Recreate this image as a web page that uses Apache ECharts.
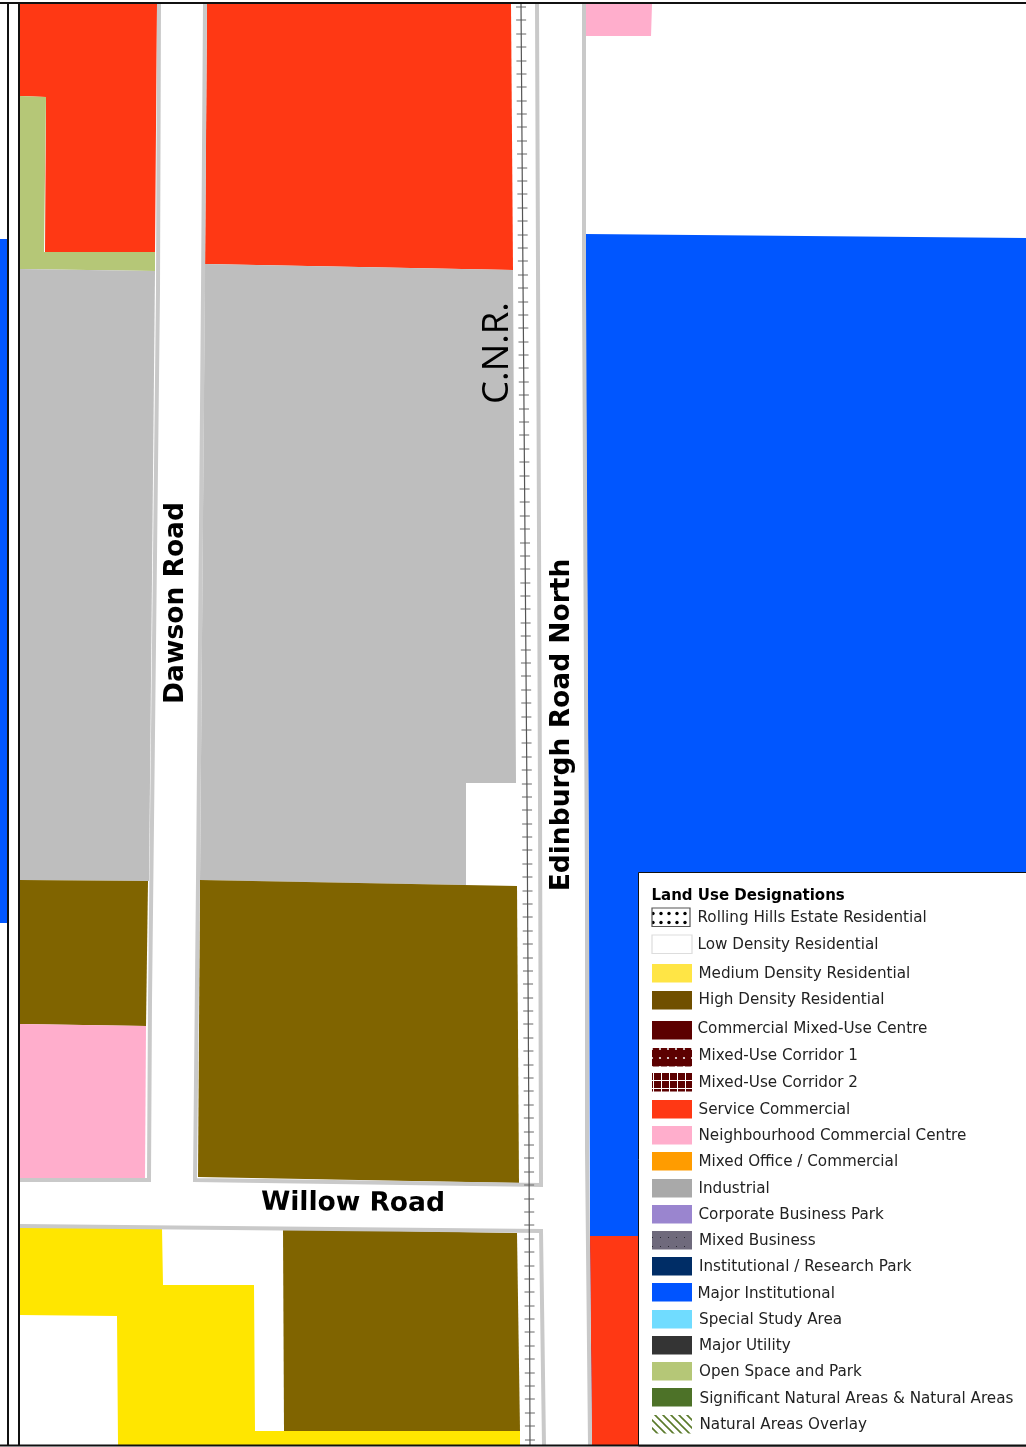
<!DOCTYPE html>
<html><head><meta charset="utf-8">
<style>html,body{margin:0;padding:0;background:#fff}#c{width:1026px;height:1447px}</style>
<script src="https://cdn.jsdelivr.net/npm/echarts@6/dist/echarts.min.js"></script>
</head><body><div id="c"></div>
<script>
// ---- Land-use parcels (map units) ----
const serviceNW = [[20,4],[157,4],[155,252],[45,252],[46,97],[20,96]];
const openSpace = [[20,96],[46,97],[44,252],[155,252],[155,271],[20,269]];
const industrialW = [[20,269],[155,271],[149,881],[20,880]];
const highW = [[20,880],[148,881],[146,1026],[20,1024]];
const neighbourW = [[20,1024],[146,1026],[145,1178],[20,1178]];
const serviceN = [[207,4],[511,4],[513,270],[205,264]];
const industrialE = [[205,264],[513,270],[516,783],[466,783],[466,885],[200,880]];
const highE = [[200,880],[517,886],[519,1183],[198,1177]];
const highS = [[283,1229],[517,1233],[520,1431],[284,1431]];
const mediumS = [[20,1228],[162,1228],[163,1285],[254,1285],[255,1431],[520,1431],[520,1445],[118,1445],[117,1316],[20,1315]];
const neighbourNE = [[585,4],[652,4],[651,36],[585,36]];
const majorE = [[585,234],[1026,238],[1026,1445],[592,1445],[590,1236],[589,900]];
const serviceSE = [[590,1236],[640,1236],[640,1445],[592,1445]];
const majorFar = [[0,239],[8,239],[8,923],[0,923]];
// ---- Road edges, railway ----
const dawsonW = [[159,4],[158,290],[150,1000],[149,1180],[20,1180]];
const dawsonE = [[205,4],[203,290],[198,880],[195,1180],[541,1185],[540,800],[537,4]];
const willowS = [[20,1226],[541,1231],[544,1445]];
const edinburghE = [[584,4],[584,280],[587,900],[587,1150],[590,1445]];
const railway = [[521,4],[523,280],[527,800],[529,1150],[530,1445]];
const railTicks = [7,20,34,47,61,74,87,101,114,127,141,154,168,181,194,208,221,235,248,261,275,288,302,315,328,342,355,368,382,395,409,422,435,449,462,476,489,502,516,529,543,556,569,583,596,609,623,636,650,663,676,690,703,717,730,743,757,770,784,797,810,824,837,850,864,877,891,904,917,931,944,958,971,984,998,1011,1024,1038,1051,1065,1078,1091,1105,1118,1132,1145,1158,1172,1185,1199,1212,1225,1239,1252,1266,1279,1292,1306,1319,1332,1346,1359,1373,1386,1399,1413,1426,1440];
const frames = [[[0,3],[1026,3]],[[8,3],[8,1445]],[[19,3],[19,1445]],[[0,1445.5],[1026,1445.5]]];
// ---- Legend ----
const legendTitle = 'Land Use Designations';
const legendNames = ['Rolling Hills Estate Residential','Low Density Residential','Medium Density Residential','High Density Residential','Commercial Mixed-Use Centre','Mixed-Use Corridor 1','Mixed-Use Corridor 2','Service Commercial','Neighbourhood Commercial Centre','Mixed Office / Commercial','Industrial','Corporate Business Park','Mixed Business','Institutional / Research Park','Major Institutional','Special Study Area','Major Utility','Open Space and Park','Significant Natural Areas & Natural Areas','Natural Areas Overlay'];
const legendTop = [908,935,964,991,1021,1048,1073,1100,1126,1152,1179,1205,1231,1257,1283,1310,1336,1362,1388,1415];
const legendTextY = [918.5,945.5,974.5,1000.5,1029.5,1056.5,1083.5,1110.5,1136.5,1162.5,1189.5,1215.5,1241.5,1267.5,1294.5,1320.5,1346.5,1372.5,1399.5,1425.5];
const legendTextX = [697.5,697.5,698.5,698.5,697.5,698.5,698.5,698.5,698.5,698.5,698.5,698.5,699,699,697.5,699,699,699,699.5,699.5];

const C = {red:'#ff3814',grey:'#bebebe',brown:'#806400',yellow:'#ffe600',pink:'#ffaecc',blue:'#0056ff',green:'#b5c777',road:'#c9c9c9'};
const parcels = [
 [serviceNW,C.red],[openSpace,C.green],[industrialW,C.grey],[highW,C.brown],[neighbourW,C.pink],
 [serviceN,C.red],[industrialE,C.grey],[highE,C.brown],[highS,C.brown],[mediumS,C.yellow],
 [neighbourNE,C.pink],[majorE,C.blue],[serviceSE,C.red],[majorFar,C.blue]
];

function pat(w,h,bg,draw){const c=document.createElement('canvas');c.width=w;c.height=h;const g=c.getContext('2d');g.fillStyle=bg;g.fillRect(0,0,w,h);draw(g);return {image:c,repeat:'repeat'};}
const fills = [
 pat(8,9,'#fff',g=>{g.fillStyle='#000';g.beginPath();g.arc(5,4.5,1.7,0,7);g.fill();}),
 '#fff','#ffe545','#704f00','#5c0000',
 pat(8,9,'#5c0000',g=>{g.fillStyle='#eee';g.beginPath();g.arc(4,5,1.1,0,7);g.fill();}),
 pat(8,8,'#5c0000',g=>{g.fillStyle='#fff';g.fillRect(5,0,1,8);g.fillRect(0,0,8,1);}),
 '#ff3814','#ffaecc','#ff9c00','#a9a9a9','#9a85cf',
 pat(8,9,'#6f6a7c',g=>{g.fillStyle='#2a2a33';g.fillRect(4,4,1,1);}),
 '#002d66','#0054ff','#70dcff','#343434','#b5c777','#4d7228',
 pat(8,8,'#fff',g=>{g.strokeStyle='#5a7a2a';g.lineWidth=1.6;g.beginPath();g.moveTo(-2,-2);g.lineTo(10,10);g.moveTo(-6,2);g.lineTo(6,14);g.moveTo(2,-6);g.lineTo(14,6);g.stroke();})
];
const strokes = {0:'#555',1:'#ddd'};

function lineSeries(pts,color,width,z){return {type:'line',data:pts,showSymbol:false,silent:true,animation:false,z:z,lineStyle:{color:color,width:width,join:'miter',cap:'butt'},clip:false};}
function poly(api,pts){return pts.map(p=>api.coord(p));}

const textRows = [
 {t:'Dawson Road',p:[176.5,603],r:90,f:'bold 26.5px "DejaVu Sans"'},
 {t:'Edinburgh Road North',p:[562,725],r:90,f:'bold 26.5px "DejaVu Sans"'},
 {t:'Willow Road',p:[353,1203.5],r:-0.4,f:'bold 26.5px "DejaVu Sans"'},
 {t:'C.N.R.',p:[498,353],r:90,f:'36.5px "Open Sans"'}
];

const option = {
 animation:false,
 grid:{left:0,right:0,top:0,bottom:0},
 xAxis:{type:'value',min:0,max:1026,show:false},
 yAxis:{type:'value',min:0,max:1447,inverse:true,show:false},
 series:[
  {type:'custom',z:1,silent:true,clip:false,data:parcels.map((_,i)=>[i]),
   renderItem:(p,api)=>{const d=parcels[api.value(0)];return {type:'polygon',shape:{points:poly(api,d[0])},style:{fill:d[1],stroke:null}};}},
  lineSeries(dawsonW,C.road,4,2),lineSeries(dawsonE,C.road,4,2),lineSeries(willowS,C.road,4,2),lineSeries(edinburghE,C.road,4,2),
  lineSeries(railway,'#555',1.2,3),
  {type:'custom',z:3,silent:true,clip:false,data:railTicks.map(y=>[y]),
   renderItem:(p,api)=>{const y=api.value(0);let x=0;for(let i=0;i<railway.length-1;i++){const a=railway[i],b=railway[i+1];if(y>=a[1]&&y<=b[1]){x=a[0]+(b[0]-a[0])*(y-a[1])/(b[1]-a[1]);}}
     const l=api.coord([x-5,y]),r=api.coord([x+5,y]);return {type:'line',shape:{x1:l[0],y1:l[1],x2:r[0],y2:r[1]},style:{stroke:'#666',lineWidth:1}};}},
  {type:'custom',z:4,silent:true,clip:false,data:textRows.map((_,i)=>[i]),
   renderItem:(p,api)=>{const d=textRows[api.value(0)];const c=api.coord(d.p);return {type:'text',x:c[0],y:c[1],rotation:d.r*Math.PI/180,style:{text:d.t,font:d.f,fill:'#000',align:'center',verticalAlign:'middle'}};}},
  {type:'custom',z:5,silent:true,clip:false,data:[[0]],
   renderItem:(p,api)=>{const a=api.coord([638.5,872.5]),b=api.coord([1027,1446]);return {type:'rect',shape:{x:a[0],y:a[1],width:b[0]-a[0],height:b[1]-a[1]},style:{fill:'#fff',stroke:'#111',lineWidth:1}};}},
  {type:'custom',z:6,silent:true,clip:false,data:legendNames.map((_,i)=>[i]),
   renderItem:(p,api)=>{const i=api.value(0),t=legendTop[i],a=api.coord([652,t]),b=api.coord([i===0?690:692,t+18.5]),tc=api.coord([legendTextX[i],legendTextY[i]]);
     const s=strokes[i];
     return {type:'group',children:[
      {type:'rect',shape:{x:a[0],y:a[1],width:b[0]-a[0],height:b[1]-a[1]},style:{fill:fills[i],stroke:s||null,lineWidth:s?1.2:0}},
      {type:'text',x:tc[0],y:tc[1],style:{text:legendNames[i],font:'15.2px "DejaVu Sans"',fill:'#222',align:'left',verticalAlign:'middle'}}
     ]};}},
  {type:'custom',z:6,silent:true,clip:false,data:[[0]],
   renderItem:(p,api)=>{const c=api.coord([651.5,896]);return {type:'text',x:c[0],y:c[1],style:{text:legendTitle,font:'bold 15px "DejaVu Sans"',fill:'#000',align:'left',verticalAlign:'middle'}};}}
 ].concat(frames.map(f=>lineSeries(f,'#111',2,7)))
};
const chart = echarts.init(document.getElementById('c'),null,{renderer:'canvas',width:1026,height:1447});
chart.setOption(option);
</script></body></html>
